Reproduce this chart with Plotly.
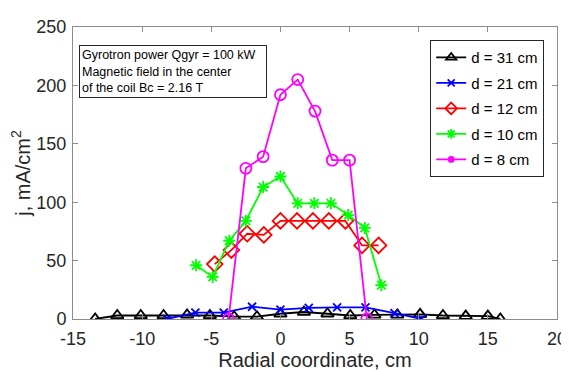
import plotly.graph_objects as go

# d = 31 cm
x31 = [-13.4, -11.8, -10.1, -8.45, -6.75, -5.1, -3.35, -1.7, 0.0, 1.7, 3.4, 5.05, 6.8, 8.45, 10.1, 11.75, 13.4, 15.0, 15.9]
y31 = [0, 3, 3, 3, 3.5, 3, 2, 2, 4.5, 6, 4.5, 3, 3.5, 3.5, 4, 3, 2.5, 2.5, 0]
# d = 21 cm
x21 = [-8.2, -6.15, -4.1, -2.05, 0.0, 2.05, 4.1, 6.15, 8.25, 10.2]
y21 = [0, 5.5, 5.5, 10.5, 8, 9.5, 10, 10, 5, 0]
# d = 12 cm
x12 = [-4.75, -3.55, -2.4, -1.2, 0.0, 1.2, 2.35, 3.5, 4.7, 5.9, 7.1]
y12 = [47, 59, 73, 72, 84, 84, 84, 84, 84, 63, 63]
# d = 10 cm
x10 = [-6.1, -4.9, -3.7, -2.5, -1.25, 0.0, 1.25, 2.45, 3.65, 4.9, 6.1, 7.3]
y10 = [46, 36, 67, 84, 113, 122, 99, 99, 99, 89, 78, 29]
# d = 8 cm
x8 = [-3.75, -2.5, -1.25, 0.0, 1.25, 2.5, 3.75, 5.0, 6.25]
y8 = [0, 129, 139, 192, 205, 178, 136, 136, 0]

names = ["d = 31 cm", "d = 21 cm", "d = 12 cm", "d = 10 cm", "d = 8 cm"]
colors = ["#000000", "#0000FF", "#FF0000", "#00FF00", "#FF00FF"]
xticks = [-15, -10, -5, 0, 5, 10, 15, 20]
yticks = [0, 50, 100, 150, 200, 250]

note = "Gyrotron power Qgyr = 100 kW<br>Magnetic field in the center<br>of the coil Bc = 2.16 T"
FONT = "Liberation Sans, Arial, sans-serif"

xs_all = [x31, x21, x12, x10, x8]
ys_all = [y31, y21, y12, y10, y8]
plot_sym = ["triangle-up-open", "x-thin-open", "diamond-open", "asterisk-open", "circle-open"]
plot_size = [11, 8, 12, 10, 11]
leg_sym = ["triangle-up-open", "x-thin-open", "diamond-open", "asterisk-open", "circle"]
leg_size = [9, 7, 9, 8, 5]

fig = go.Figure()
for i in range(5):
    fig.add_trace(go.Scatter(
        x=xs_all[i], y=ys_all[i], mode="lines+markers", name=names[i], showlegend=False,
        legendgroup=names[i],
        line=dict(color=colors[i], width=1.8),
        marker=dict(symbol=plot_sym[i], size=plot_size[i], color=colors[i],
                    line=dict(width=1.8, color=colors[i])),
    ))
# legend entries (smaller markers, as in the reference legend)
for i in range(5):
    fig.add_trace(go.Scatter(
        x=[None], y=[None], mode="lines+markers", name=names[i], legendgroup=names[i],
        line=dict(color=colors[i], width=1.8),
        marker=dict(symbol=leg_sym[i], size=leg_size[i], color=colors[i],
                    line=dict(width=1.8, color=colors[i])),
    ))

axis_common = dict(
    showline=True, mirror="ticks", linecolor="#8c8c8c", linewidth=1,
    ticks="inside", ticklen=5, tickcolor="#8c8c8c",
    showgrid=False, zeroline=False, automargin=True,
    tickfont=dict(family=FONT, size=18, color="#262626"),
)
fig.update_xaxes(range=[-15, 20], tickvals=xticks, ticktext=[str(v) for v in xticks],
                 ticklabelstandoff=3,
                 title=dict(text="Radial coordinate, cm", font=dict(family=FONT, size=20, color="#262626"), standoff=1),
                 **axis_common)
fig.update_yaxes(range=[0, 250], tickvals=yticks, ticktext=[str(v) for v in yticks],
                 ticklabelstandoff=2, ticklabeloverflow="allow",
                 title=dict(text="j, mA/cm<sup>2</sup>", font=dict(family=FONT, size=20, color="#262626"), standoff=0),
                 **axis_common)

fig.add_annotation(
    text=note, xref="paper", yref="paper", x=0.0124, y=0.94, xanchor="left", yanchor="top",
    align="left", valign="middle", width=182, height=47, showarrow=False,
    bordercolor="#262626", borderwidth=1, borderpad=2, bgcolor="white",
    font=dict(family=FONT, size=12.5, color="#000000"),
)

# the page places the figure 8px from the window's top-left corner
fig.update_layout(
    width=569, height=372,
    margin=dict(l=65, r=20, t=9, b=61),
    paper_bgcolor="white", plot_bgcolor="white",
    showlegend=True,
    legend=dict(x=0.738, y=0.955, xanchor="left", yanchor="top",
                bordercolor="#262626", borderwidth=1, bgcolor="white",
                font=dict(family=FONT, size=15, color="#000000"),
                tracegroupgap=3, itemwidth=30),
)

fig.write_html("out.html")
